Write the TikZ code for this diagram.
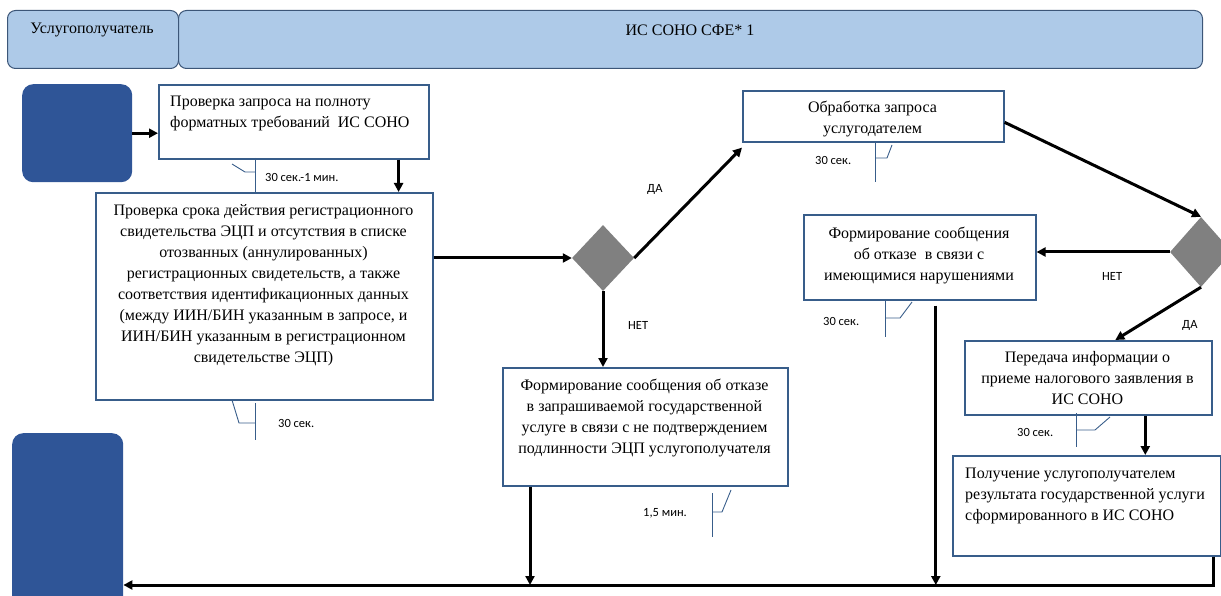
\documentclass[tikz,border=0pt]{standalone}
\usepackage{fontspec}
\setmainfont{Liberation Serif}
\newfontfamily\lblfont{Carlito}
\usetikzlibrary{arrows.meta,shapes.geometric}
\definecolor{hdrfill}{RGB}{174,202,232}
\definecolor{hdrline}{RGB}{60,86,120}
\definecolor{boxline}{RGB}{56,93,138}
\definecolor{blk}{RGB}{47,85,151}
\definecolor{dmd}{RGB}{128,128,128}
\tikzset{
  hdr/.style={draw=hdrline, fill=hdrfill, line width=1pt, rounded corners=8pt, anchor=north west, inner sep=0pt},
  stepbox/.style={draw=boxline, line width=1.6pt, anchor=north west, inner sep=0pt},
  blkbox/.style={fill=blk, rounded corners=11pt, anchor=north west, inner sep=0pt},
  dia/.style={diamond, fill=dmd, inner sep=0pt},
  txt/.style={font=\fontsize{16}{21}\selectfont, align=center, inner sep=0pt},
  txtl/.style={font=\fontsize{16}{21}\selectfont, align=left, inner sep=0pt, anchor=west},
  hdrtxt/.style={font=\fontsize{16}{18}\selectfont, inner sep=0pt},
  lbl/.style={font=\lblfont\fontsize{12.5}{14}\selectfont, inner sep=0pt, anchor=west},
  arr/.style={line width=3pt, -{Triangle[length=9pt,width=9pt]}},
  call/.style={draw=boxline, line width=0.9pt},
}
\begin{document}
\begin{tikzpicture}[x=1pt,y=-1pt]
\useasboundingbox (0,0) rectangle (1221,596);
\clip (0,0) rectangle (1221,596);
% headers
\node[hdr, minimum width=171pt, minimum height=58pt] (h1) at (7,10) {};
\node[hdr, minimum width=1024pt, minimum height=58pt] (h2) at (178,10) {};
\node[hdrtxt] (h1t) at (92,30) {Услугополучатель};
\node[hdrtxt] (h2t) at (690,30) {ИС СОНО СФЕ* 1};
% blue blocks
\node[blkbox, minimum width=110pt, minimum height=98pt] (s1) at (22,84) {};
\node[blkbox, minimum width=111pt, minimum height=180pt] (s2) at (12,433) {};
% boxes
\node[stepbox, minimum width=270pt, minimum height=74pt] (b1) at (158,84) {};
\node[stepbox, minimum width=337pt, minimum height=207pt] (b2) at (95,192) {};
\node[stepbox, minimum width=261pt, minimum height=51pt] (b3) at (742,90) {};
\node[stepbox, minimum width=285pt, minimum height=118pt] (b4) at (502,367) {};
\node[stepbox, minimum width=232pt, minimum height=85pt] (b5) at (803,214) {};
\node[stepbox, minimum width=247pt, minimum height=74pt] (b6) at (964,340) {};
\node[stepbox, minimum width=268pt, minimum height=100pt] (b7) at (952,455) {};
% texts
\node[txtl] (t1) at (170,113) {Проверка запроса на полноту\\форматных требований\ \ ИС СОНО};
\node[txt] (t2) at (263.5,285.5) {Проверка срока действия регистрационного\\свидетельства ЭЦП и отсутствия в списке\\отозванных (аннулированных)\\регистрационных свидетельств, а также\\соответствия идентификационных данных\\(между ИИН/БИН указанным в запросе, и\\ИИН/БИН указанным в регистрационном\\свидетельстве ЭЦП)};
\node[txt] (t3) at (872.5,119.5) {Обработка запроса\\услугодателем};
\node[txt] (t4) at (644.5,417.5) {Формирование сообщения об отказе\\в запрашиваемой государственной\\услуге в связи с не подтверждением\\подлинности ЭЦП услугополучателя};
\node[txt] (t5) at (919,255.5) {Формирование сообщения\\об отказе\ \ в связи с\\имеющимися нарушениями};
\node[txt] (t6) at (1087.5,378.5) {Передача информации о\\приеме налогового заявления в\\ИС СОНО};
\node[txtl] (t7) at (965,495.5) {Получение услугополучателем\\результата государственной услуги\\сформированного в ИС СОНО};
% diamonds
\node[dia, minimum width=62pt, minimum height=66pt] (d1) at (603,258) {};
\node[dia, minimum width=62pt, minimum height=70pt] (d2) at (1201,252) {};
\coordinate (bot) at (0,585);
% connectors
\draw[arr] (s1.east) -- (s1.east -| b1.west);
\draw[arr] ([xshift=-31pt]b1.south east) -- ([xshift=-31pt]b1.south east |- b2.north);
\draw[arr] (b2.east |- d1) -- (d1.west);
\draw[arr] (d1.east) -- ([yshift=-5pt]b3.south west);
\draw[arr] (d1.south) -- (d1.south |- b4.north);
\draw[arr] ([xshift=28pt]b4.south west) -- ([xshift=28pt]b4.south west |- bot);
\draw[arr] ([yshift=-6pt]b3.east) -- (d2.north);
\draw[arr] (d2.west) -- (d2.west -| b5.east);
\draw[arr] (d2.south) -- ([xshift=27pt]b6.north);
\draw[arr] ([xshift=57pt]b6.south) -- ([xshift=57pt]b6.south |- b7.north);
\draw[arr] ([xshift=16pt,yshift=-5pt]b5.south) -- ([xshift=16pt]b5.south |- bot);
\draw[arr] ([xshift=-8pt]b7.south east) |- (s2.east |- bot);
% labels
\node[lbl] (l1) at (265,177) {30 сек.-1 мин.};
\node[lbl] (l2) at (278,423) {30 сек.};
\node[lbl] (l3) at (643,513) {1,5 мин.};
\node[lbl] (l4) at (815,160) {30 сек.};
\node[lbl] (l5) at (823,321) {30 сек.};
\node[lbl] (l6) at (1017,432) {30 сек.};
\node[lbl] (y1) at (647,189) {ДА};
\node[lbl] (n1) at (628,325) {НЕТ};
\node[lbl] (n2) at (1102,276) {НЕТ};
\node[lbl] (y2) at (1182,325) {ДА};
% callouts
\draw[call] (232,164) -- (245,172) -- (255,172);
\draw[call] (255,158) -- (255,193);
\draw[call] (232,400) -- (239,423) -- (255,423);
\draw[call] (255,403) -- (255,440);
\draw[call] (875,142) -- (875,182);
\draw[call] (875,158) -- (887,158) -- (892,145);
\draw[call] (885,300) -- (885,337);
\draw[call] (885,318) -- (900,318) -- (912,302);
\draw[call] (1076,413) -- (1076,447);
\draw[call] (1076,430) -- (1095,430) -- (1110,417);
\draw[call] (712,493) -- (712,537);
\draw[call] (712,512) -- (722,512) -- (731,490);
\end{tikzpicture}
\end{document}
